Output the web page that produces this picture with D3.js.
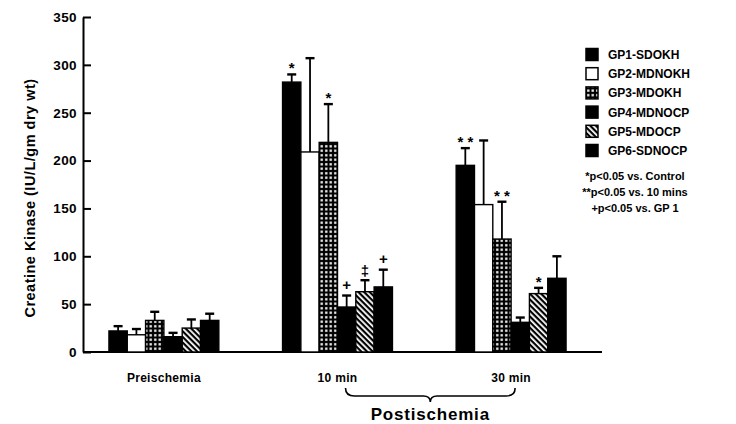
<!DOCTYPE html>
<html>
<head>
<meta charset="utf-8">
<script src="https://cdn.jsdelivr.net/npm/d3@7"></script>
<style>
  body { margin: 0; background: #fff; }
  text { font-family: "Liberation Sans", Arial, sans-serif; font-weight: bold; fill: #000; }
</style>
</head>
<body>
<svg id="chart" width="736" height="424"></svg>
<script>
// data
const categories = ["Preischemia", "10 min", "30 min"];
const groups = ["GP1-SDOKH", "GP2-MDNOKH", "GP3-MDOKH", "GP4-MDNOCP", "GP5-MDOCP", "GP6-SDNOCP"];
const yTicks = [0, 50, 100, 150, 200, 250, 300, 350];

// means, one value per category
const gp1 = [22, 282, 195];
const gp2 = [18, 209, 154];
const gp3 = [33, 219, 118];
const gp4 = [16, 47, 31];
const gp5 = [25, 63, 61];
const gp6 = [33, 68, 77];

// upper error (SE)
const gp1Err = [5, 8, 18];
const gp2Err = [6, 98, 67];
const gp3Err = [9, 40, 39];
const gp4Err = [4, 12, 5];
const gp5Err = [9, 12, 6];
const gp6Err = [7, 18, 23];

// significance marks drawn above the error bars
const marks = [
    { cat: "10 min", group: "GP1-SDOKH", sym: "*" },
    { cat: "10 min", group: "GP3-MDOKH", sym: "*" },
    { cat: "10 min", group: "GP4-MDNOCP", sym: "+" },
    { cat: "10 min", group: "GP5-MDOCP", sym: "\u2021" },
    { cat: "10 min", group: "GP6-SDNOCP", sym: "+" },
    { cat: "30 min", group: "GP1-SDOKH", sym: "* *" },
    { cat: "30 min", group: "GP3-MDOKH", sym: "* *" },
    { cat: "30 min", group: "GP5-MDOCP", sym: "*" }
];

const notes = ["*p<0.05 vs. Control", "**p<0.05 vs. 10 mins", "+p<0.05 vs. GP 1"];
const yTitle = "Creatine Kinase (IU/L/gm dry wt)";
const braceTitle = "Postischemia";

const means = [gp1, gp2, gp3, gp4, gp5, gp6];
const errs = [gp1Err, gp2Err, gp3Err, gp4Err, gp5Err, gp6Err];
const fills = ["#000", "#fff", "url(#dots)", "#000", "url(#stripes)", "#000"];

const rows = [];
groups.forEach((g, gi) => {
    categories.forEach((c, ci) => {
        rows.push({ group: g, cat: c, value: means[gi][ci], err: errs[gi][ci], fill: fills[gi] });
    });
});

const svg = d3.select("#chart");

// patterns
const defs = svg.append("defs");
const dots = defs.append("pattern").attr("id", "dots")
    .attr("patternUnits", "userSpaceOnUse").attr("width", 4.5).attr("height", 4.5);
dots.append("rect").attr("width", 4.5).attr("height", 4.5).attr("fill", "#000");
dots.append("rect").attr("x", 1.1).attr("y", 1.1).attr("width", 2.3).attr("height", 2.3).attr("fill", "#fff");

const stripes = defs.append("pattern").attr("id", "stripes")
    .attr("patternUnits", "userSpaceOnUse").attr("width", 4).attr("height", 4)
    .attr("patternTransform", "rotate(-45)");
stripes.append("rect").attr("width", 4).attr("height", 4).attr("fill", "#000");
stripes.append("rect").attr("x", 0).attr("width", 1.8).attr("height", 4).attr("fill", "#fff");

// scales
const x0 = d3.scaleBand().domain(categories).range([77, 598])
    .paddingInner(0.367).paddingOuter(0.184);
const x1 = d3.scaleBand().domain(groups).range([0, x0.bandwidth()]);
const y = d3.scaleLinear().domain([0, 350]).range([352, 17]);

// y axis, ticks pointing inward
const yAxis = svg.append("g")
    .attr("transform", "translate(83,0)")
    .call(d3.axisLeft(y).tickValues(yTicks).tickSizeInner(-8).tickSizeOuter(0).tickPadding(6));
yAxis.select(".domain").attr("stroke", "#000").attr("stroke-width", 2);
yAxis.selectAll(".tick line").attr("stroke", "#000").attr("stroke-width", 2);
yAxis.selectAll(".tick text")
    .style("font-family", "'Liberation Sans', Arial, sans-serif")
    .style("font-weight", "bold").style("font-size", "13.5px")
    .style("letter-spacing", "0.4px").attr("fill", "#000");

// baseline
svg.append("line")
    .attr("x1", 83).attr("x2", 602)
    .attr("y1", y(0)).attr("y2", y(0))
    .attr("stroke", "#000").attr("stroke-width", 2);

// bars
const bars = svg.append("g");
bars.selectAll("rect").data(rows).join("rect")
    .attr("x", d => x0(d.cat) + x1(d.group))
    .attr("y", d => y(d.value))
    .attr("width", x1.bandwidth())
    .attr("height", d => y(0) - y(d.value))
    .attr("fill", d => d.fill)
    .attr("stroke", "#000").attr("stroke-width", 1.4);

// error bars
const eb = svg.append("g").attr("stroke", "#000");
eb.selectAll("line.v").data(rows).join("line").attr("class", "v")
    .attr("x1", d => x0(d.cat) + x1(d.group) + x1.bandwidth() / 2)
    .attr("x2", d => x0(d.cat) + x1(d.group) + x1.bandwidth() / 2)
    .attr("y1", d => y(d.value))
    .attr("y2", d => y(d.value + d.err))
    .attr("stroke-width", 1.8);
eb.selectAll("line.cap").data(rows).join("line").attr("class", "cap")
    .attr("x1", d => x0(d.cat) + x1(d.group) + x1.bandwidth() / 2 - 4.5)
    .attr("x2", d => x0(d.cat) + x1(d.group) + x1.bandwidth() / 2 + 4.5)
    .attr("y1", d => y(d.value + d.err))
    .attr("y2", d => y(d.value + d.err))
    .attr("stroke-width", 2.4);

// significance marks
const symShift = { "*": 2, "* *": 2, "+": -3, "\u2021": -1 };
svg.append("g").selectAll("text").data(marks).join("text")
    .attr("text-anchor", "middle")
    .attr("x", d => x0(d.cat) + x1(d.group) + x1.bandwidth() / 2)
    .attr("y", d => {
        const r = rows.find(e => e.cat === d.cat && e.group === d.group);
        return y(r.value + r.err) - 3 + symShift[d.sym];
    })
    .style("font-size", "15px")
    .text(d => d.sym);

// category labels
svg.append("g").selectAll("text").data(categories).join("text")
    .attr("text-anchor", "middle")
    .attr("x", d => x0(d) + x0.bandwidth() / 2)
    .attr("y", 382)
    .style("font-size", "12px")
    .style("letter-spacing", "0.3px")
    .text(d => d);

// brace under the two postischemia groups
const xa = x0("10 min") + x0.bandwidth() / 2 + 8;
const xb = x0("30 min") + x0.bandwidth() / 2 + 4;
const xm = (xa + xb) / 2;
const p = d3.path();
p.moveTo(xa, 388);
p.quadraticCurveTo(xa, 396, xa + 9, 396);
p.lineTo(xm - 7, 396);
p.quadraticCurveTo(xm, 396, xm, 402);
p.quadraticCurveTo(xm, 396, xm + 7, 396);
p.lineTo(xb - 9, 396);
p.quadraticCurveTo(xb, 396, xb, 388);
svg.append("path").attr("d", p.toString())
    .attr("fill", "none").attr("stroke", "#000").attr("stroke-width", 1.6);

svg.append("text")
    .attr("text-anchor", "middle")
    .attr("x", xm).attr("y", 420)
    .style("font-size", "17px")
    .style("letter-spacing", "0.8px")
    .text(braceTitle);

// y title
svg.append("text")
    .attr("transform", "translate(35,198) rotate(-90)")
    .attr("text-anchor", "middle")
    .style("font-size", "14.5px")
    .style("letter-spacing", "0.5px")
    .text(yTitle);

// legend
const ly = d3.scalePoint().domain(groups).range([54.5, 150.5]);
const legend = svg.append("g").selectAll("g").data(groups).join("g")
    .attr("transform", d => `translate(586,${ly(d)})`);
legend.append("rect")
    .attr("x", 0).attr("y", -6).attr("width", 12).attr("height", 12)
    .attr("fill", (d, i) => fills[i])
    .attr("stroke", "#000").attr("stroke-width", 1.5);
legend.append("text")
    .attr("x", 22).attr("y", 4.5)
    .style("font-size", "12px")
    .text(d => d);

svg.append("g").selectAll("text").data(notes).join("text")
    .attr("text-anchor", "middle")
    .attr("x", 635)
    .attr("y", (d, i) => 180 + i * 16)
    .style("font-size", "11px")
    .text(d => d);
</script>
</body>
</html>
